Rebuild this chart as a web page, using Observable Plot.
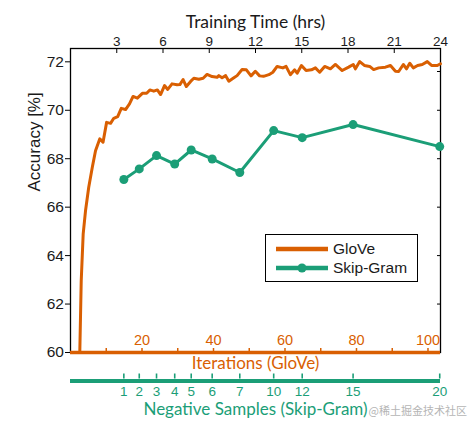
<!DOCTYPE html>
<html><head><meta charset="utf-8">
<script src="https://cdn.jsdelivr.net/npm/d3@7"></script>
<script src="https://cdn.jsdelivr.net/npm/@observablehq/plot@0.6"></script>
<style>
body{margin:0;background:#fff;}
#wrap{position:relative;width:471px;height:427px;overflow:hidden;}
#legend{position:absolute;left:265px;top:234px;width:153px;height:48px;box-sizing:border-box;border:1.3px solid #000;background:#fff;}
#legend svg{display:block;}
#wm{position:absolute;right:4px;top:402px;font:11px "Noto Sans CJK SC",sans-serif;color:#b5b5b5;}
</style></head><body><div id="wrap"></div><script>
const ORANGE = "#d95f02", GREEN = "#1b9e77";
const totalIters = 103.5, totalHours = 24;

const gloveIter = [2.6,3.0,3.55,4.2,5.1,6.1,7.0,8.2,9.1,10.1,11.2,12.1,13.2,14.2,15.4,16.5,17.5,18.7,20.1,21.3,22.2,23.3,24.3,25.2,26.3,27.2,28.4,29.8,30.6,31.5,32.4,33.6,34.5,35.9,37.1,38.2,39.6,41.0,41.5,42.4,43.4,44.3,45.7,46.6,48.0,49.2,50.5,51.7,52.9,54.0,55.5,56.6,57.8,59.4,60.3,61.5,62.7,63.4,64.6,65.9,67.4,68.5,69.7,71.1,72.7,74.1,76.0,77.8,79.1,79.7,80.9,82.2,83.7,84.8,86.2,88.1,89.5,90.9,91.8,93.1,94.0,94.9,95.9,97.1,98.4,99.8,101.0,102.6,103.5];
const gloveAcc = [60,62.96,64.9,65.85,66.82,67.65,68.33,68.82,68.68,69.5,69.46,69.67,69.74,70.08,70.03,70.26,70.57,70.5,70.7,70.7,70.84,70.79,70.84,70.65,71.02,70.86,71.09,71.05,71.06,71.27,70.98,71.19,71.32,71.28,71.32,71.48,71.39,71.36,71.43,71.34,71.43,71.2,71.34,71.43,71.68,71.67,71.42,71.61,71.42,71.4,71.47,71.57,71.81,71.75,71.81,71.47,71.67,71.53,71.85,71.64,71.67,71.75,71.57,71.81,71.71,71.89,71.64,71.78,71.89,71.71,72.01,71.85,71.81,71.68,71.75,71.78,71.85,71.61,71.6,71.89,71.71,71.94,71.75,71.85,71.89,72.01,71.85,71.85,71.92];

const sgNeg = [1,2,3,4,5,6,7,10,12,15,20];
const sgHours = [3.46,4.46,5.58,6.76,7.83,9.19,10.98,13.18,15.03,18.33,23.95];
const sgAcc = [67.14,67.58,68.13,67.78,68.36,67.99,67.43,69.16,68.87,69.41,68.5];

const hourTicks = [3,6,9,12,15,18,21,24];
const iterTicks = [10,20,30,40,50,60,70,80,90,100];
const iterLabels = [20,40,60,80,100];
const yTicks = [60,62,64,66,68,70,72];
const yTicksRight = [62,64,66,68,70,71.6];
const seriesNames = ["GloVe","Skip-Gram"];
const seriesColors = [ORANGE, GREEN];

const toHours = it => it * totalHours / totalIters;
const glove = gloveIter.map((it,i)=>({h: toHours(it), acc: gloveAcc[i]}));
const sg = sgNeg.map((n,i)=>({n, h: sgHours[i], acc: sgAcc[i]}));

const titleFont = "Lato, 'Open Sans', sans-serif";
const narrow = "'Liberation Sans Narrow', 'Arial Narrow', 'Liberation Sans', sans-serif";
const mid = {lineAnchor: "middle"};

const chart = Plot.plot({
  width: 471, height: 427,
  marginLeft: 70, marginRight: 31, marginTop: 48, marginBottom: 75,
  x: {domain: [0, 24]},
  y: {domain: [60, 72.55]},
  style: {fontFamily: "'Liberation Sans', Arial, sans-serif", background: "white", color: "black"},
  marks: [
    Plot.frame({stroke: "black", strokeWidth: 1.3}),
    Plot.axisY({ticks: yTicks, tickSize: 5, tickPadding: 1.5, fontSize: 15.5, fontFamily: narrow, label: null, fill: "#1a1a1a"}),
    Plot.axisY({anchor: "right", ticks: yTicksRight, tickSize: 4, dx: -4, text: null, label: null}),
    Plot.axisX({anchor: "top", ticks: hourTicks, tickSize: 4, dy: 4, text: null, label: null}),
    Plot.axisX({anchor: "top", ticks: hourTicks, tickSize: 0, tickPadding: 3, fontSize: 13.5, label: null, fill: "#1a1a1a"}),
    Plot.text(["Training Time (hrs)"], {frameAnchor: "top", dy: -26, ...mid, fontSize: 17.5, fontFamily: titleFont, fill: "#1a1a1a"}),
    Plot.text(["Accuracy [%]"], {frameAnchor: "left", rotate: -90, dx: -36, dy: -9, ...mid, fontSize: 17, fill: "#1a1a1a"}),
    // GloVe iterations axis (bottom, orange)
    Plot.axisX({anchor: "bottom", ticks: iterTicks.map(toHours), tickSize: 4, dy: -4, text: null, label: null, stroke: ORANGE, strokeWidth: 1.5}),
    Plot.text(iterLabels, {x: toHours, frameAnchor: "bottom", dy: -12, ...mid, fill: ORANGE, fontSize: 14.5}),
    Plot.text(["Iterations (GloVe)"], {frameAnchor: "bottom", dy: 11, ...mid, fill: ORANGE, fontSize: 17, fontFamily: titleFont}),
    // Skip-gram negative samples axis (green)
    Plot.ruleY([60], {stroke: GREEN, strokeWidth: 4, dy: 28.5}),
    Plot.axisX({anchor: "bottom", ticks: sgHours, tickSize: 5, dy: 21.5, text: null, label: null, stroke: GREEN, strokeWidth: 1.6}),
    Plot.text(sg, {x: "h", text: "n", frameAnchor: "bottom", dy: 39.5, ...mid, fill: GREEN, fontSize: 13.5}),
    Plot.text(["Negative Samples (Skip-Gram)"], {frameAnchor: "bottom", dy: 57, ...mid, fill: GREEN, fontSize: 17, fontFamily: titleFont}),
    // data
    Plot.ruleY([60], {stroke: ORANGE, strokeWidth: 3.5}),
    Plot.line(glove, {x: "h", y: "acc", stroke: ORANGE, strokeWidth: 3}),
    Plot.line(sg, {x: "h", y: "acc", stroke: GREEN, strokeWidth: 3}),
    Plot.dot(sg, {x: "h", y: "acc", r: 4.5, fill: GREEN})
  ]
});
const wrap = document.getElementById("wrap");
wrap.appendChild(chart);

// legend
const leg = document.createElement("div");
leg.id = "legend";
const svg = d3.create("svg").attr("width", 151).attr("height", 46);
seriesNames.forEach((name, i) => {
  const y = 14 + i * 19;
  svg.append("line").attr("x1", 10).attr("x2", 62).attr("y1", y).attr("y2", y)
    .attr("stroke", seriesColors[i]).attr("stroke-width", 4.5);
  if (i === 1) svg.append("circle").attr("cx", 36).attr("cy", y).attr("r", 4.5).attr("fill", seriesColors[i]);
  svg.append("text").attr("x", 67).attr("y", y).attr("dy", "0.35em")
    .attr("font-family", "'Liberation Sans', Arial, sans-serif").attr("font-size", 15.5).attr("fill", "#1a1a1a").text(name);
});
leg.appendChild(svg.node());
wrap.appendChild(leg);

const wm = document.createElement("div");
wm.id = "wm";
wm.textContent = "@稀土掘金技术社区";
wrap.appendChild(wm);
</script></body></html>
